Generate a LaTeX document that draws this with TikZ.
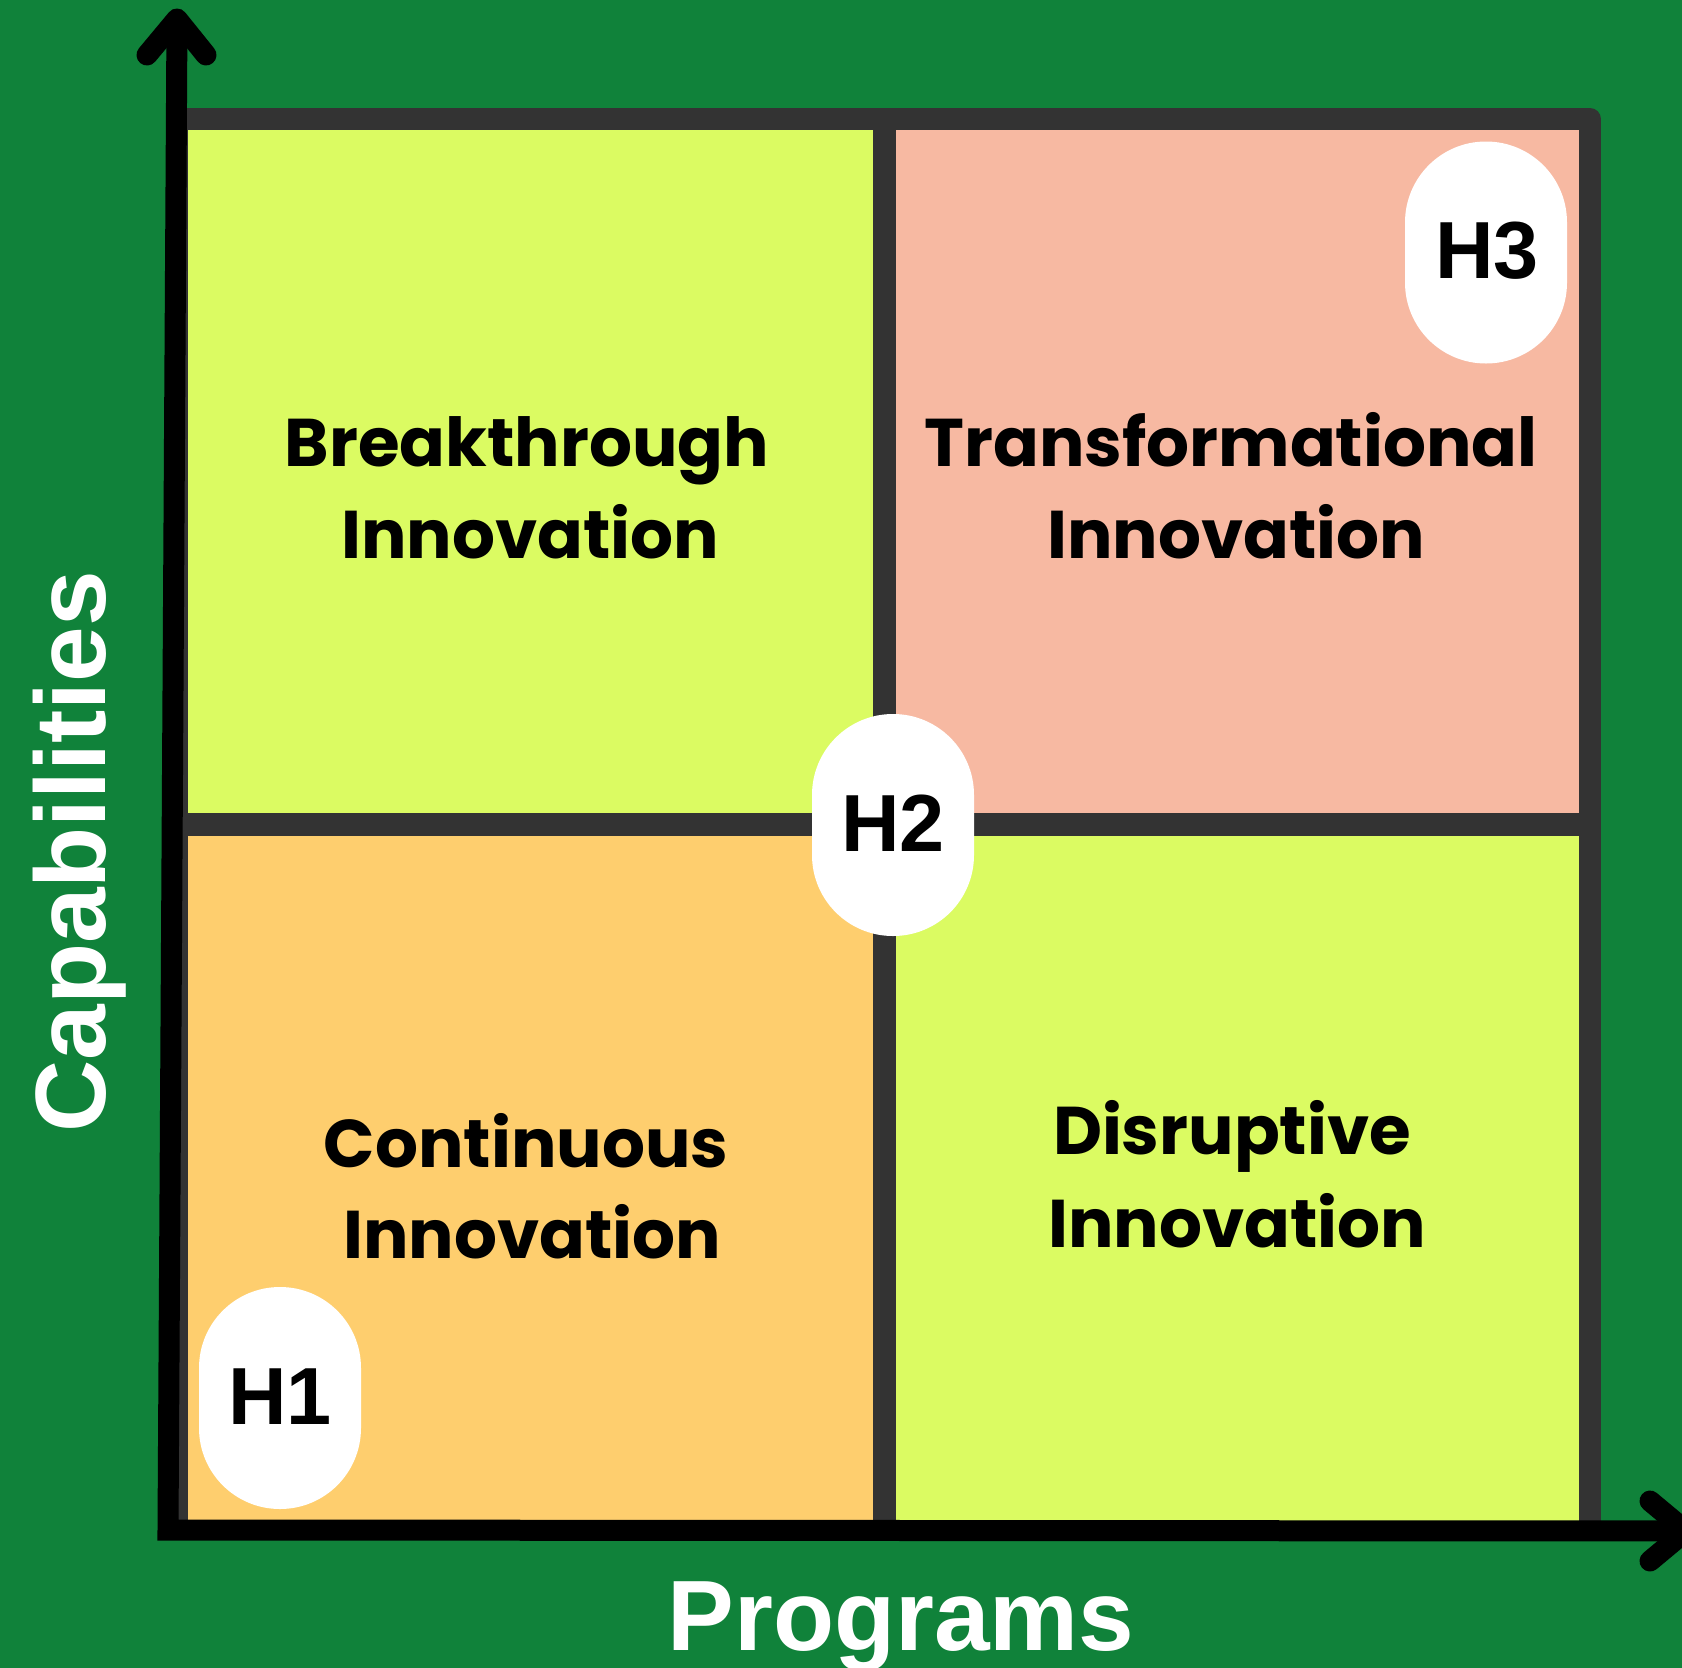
\documentclass[tikz,border=0pt]{standalone}
\usepackage{fontspec}
\newfontfamily\popfont{Poppins}
\newfontfamily\arialfont{Liberation Sans}
\definecolor{bggreen}{RGB}{16,130,58}
\definecolor{limefill}{RGB}{219,251,98}
\definecolor{peachfill}{RGB}{247,185,162}
\definecolor{orangefill}{RGB}{254,206,110}
\definecolor{framegray}{RGB}{51,51,51}
\tikzset{
  quadlabel/.style={anchor=base, inner sep=0pt, text=black, font=\popfont\bfseries\fontsize{67.5}{80}\selectfont},
  hbadge/.style={fill=white, minimum width=162pt, minimum height=222pt, rounded corners=80.9pt, inner sep=0pt},
  htext/.style={anchor=base, inner sep=0pt, text=black, font=\arialfont\bfseries\fontsize{81}{90}\selectfont},
  axislabel/.style={anchor=base, inner sep=0pt, text=white, font=\arialfont\bfseries\fontsize{100}{110}\selectfont},
  axisline/.style={black, line width=21pt},
  divider/.style={framegray, line width=23pt}
}
\begin{document}
\begin{tikzpicture}[x=1pt,y=-1pt]
\useasboundingbox (0,0) rectangle (1682,1668);
\fill[bggreen] (0,0) rectangle (1682,1668);
% quadrants
\fill[limefill] (177,119) rectangle (884.5,824.5);
\fill[peachfill] (884.5,119) rectangle (1590,824.5);
\fill[orangefill] (177,824.5) rectangle (884.5,1530);
\fill[limefill] (884.5,824.5) rectangle (1590,1530);
% frame and dividers
\draw[framegray, line width=22pt, line join=round] (177,1530) -- (177,119) -- (1590,119) -- (1590,1530);
\draw[divider] (177,824.5) -- (1590,824.5);
\draw[divider] (884.5,119) -- (884.5,1530);
% badges
\node[hbadge] (b1) at (280,1398) {};
\node[hbadge] (b2) at (893,825) {};
\node[hbadge] (b3) at (1486,252.5) {};
\node[htext] (h1) at (280,1424) {H1};
\node[htext] (h2) at (893,851) {H2};
\node[htext] (h3) at (1487,278) {H3};
% quadrant labels
\node[quadlabel] (bt1) at (527,466) {Breakthrough};
\node[quadlabel] (bt2) at (530,558) {Innovation};
\node[quadlabel] (tr1) at (1231,466) {Transformational};
\node[quadlabel] (tr2) at (1236,558) {Innovation};
\node[quadlabel] (co1) at (526,1167) {Continuous};
\node[quadlabel] (co2) at (532,1258) {Innovation};
\node[quadlabel] (di1) at (1232,1154) {Disruptive};
\node[quadlabel] (di2) at (1237,1247) {Innovation};
% axis labels
\node[axislabel] (xlab) at (901,1650) {Programs};
\node[axislabel, rotate=90] (ylab) at (105,852) {Capabilities};
% axes
\coordinate (ytip) at (177,19);
\coordinate (orig) at (168,1530);
\coordinate (xtip) at (1686,1531);
\coordinate (yl) at (147,55);
\coordinate (yr) at (206,55);
\coordinate (xu) at (1650,1501);
\coordinate (xd) at (1650,1561);
\draw[axisline, line join=miter, line cap=butt] (ytip) -- (orig) -- (xtip);
\draw[axisline, line join=round, line cap=round] (yl) -- (ytip) -- (yr);
\draw[axisline, line join=round, line cap=round] (xu) -- (xtip) -- (xd);
\end{tikzpicture}
\end{document}
